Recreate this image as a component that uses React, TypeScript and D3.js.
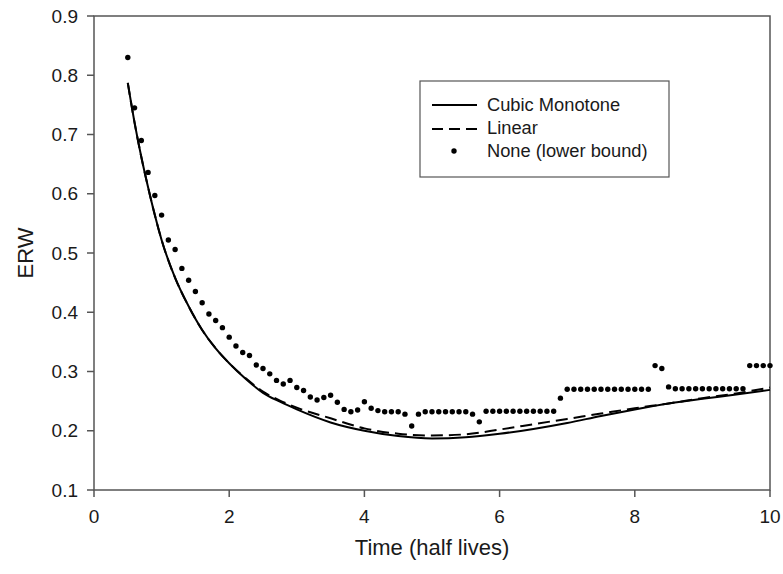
import React from "react";
import * as d3 from "d3";

// ---- data ----
const dotTimes: number[] = [
  0.5, 0.6, 0.7, 0.8, 0.9, 1.0, 1.1, 1.2, 1.3, 1.4, 1.5, 1.6, 1.7, 1.8, 1.9,
  2.0, 2.1, 2.2, 2.3, 2.4, 2.5, 2.6, 2.7, 2.8, 2.9, 3.0, 3.1, 3.2, 3.3, 3.4,
  3.5, 3.6, 3.7, 3.8, 3.9, 4.0, 4.1, 4.2, 4.3, 4.4, 4.5, 4.6, 4.7, 4.8, 4.9,
  5.0, 5.1, 5.2, 5.3, 5.4, 5.5, 5.6, 5.7, 5.8, 5.9, 6.0, 6.1, 6.2, 6.3, 6.4,
  6.5, 6.6, 6.7, 6.8, 6.9, 7.0, 7.1, 7.2, 7.3, 7.4, 7.5, 7.6, 7.7, 7.8, 7.9,
  8.0, 8.1, 8.2, 8.3, 8.4, 8.5, 8.6, 8.7, 8.8, 8.9, 9.0, 9.1, 9.2, 9.3, 9.4,
  9.5, 9.6, 9.7, 9.8, 9.9, 10.0,
];
const dotValues: number[] = [
  0.830, 0.745, 0.690, 0.636, 0.597, 0.564, 0.522, 0.506, 0.474, 0.454, 0.435, 0.416, 0.397, 0.386, 0.374,
  0.358, 0.343, 0.332, 0.327, 0.311, 0.305, 0.296, 0.285, 0.279, 0.285, 0.273, 0.268, 0.257, 0.252, 0.256,
  0.260, 0.248, 0.236, 0.232, 0.235, 0.249, 0.238, 0.234, 0.232, 0.232, 0.232, 0.228, 0.208, 0.228, 0.232,
  0.232, 0.232, 0.232, 0.232, 0.232, 0.232, 0.228, 0.215, 0.233, 0.233, 0.233, 0.233, 0.233, 0.233, 0.233,
  0.233, 0.233, 0.233, 0.233, 0.255, 0.270, 0.270, 0.270, 0.270, 0.270, 0.270, 0.270, 0.270, 0.270, 0.270,
  0.270, 0.270, 0.270, 0.310, 0.305, 0.274, 0.271, 0.271, 0.271, 0.271, 0.271, 0.271, 0.271, 0.271, 0.271,
  0.271, 0.271, 0.310, 0.310, 0.310, 0.310,
];

const cubicTimes: number[] = [
  0.5, 0.6, 0.7, 0.8, 0.9, 1.0, 1.2, 1.4, 1.6, 1.8, 2.0, 2.25, 2.5, 2.75, 3.0,
  3.5, 4.0, 4.5, 5.0, 5.5, 6.0, 6.5, 7.0, 7.5, 8.0, 8.5, 9.0, 9.5, 10.0,
];
const cubicValues: number[] = [
  0.787, 0.720, 0.662, 0.611, 0.564, 0.522, 0.458, 0.410, 0.370, 0.339, 0.314, 0.287, 0.264, 0.249, 0.236,
  0.214, 0.200, 0.191, 0.187, 0.189, 0.195, 0.203, 0.213, 0.225, 0.236, 0.246, 0.254, 0.261, 0.269,
];

const linearTimes: number[] = [
  0.5, 0.6, 0.7, 0.8, 0.9, 1.0, 1.2, 1.4, 1.6, 1.8, 2.0, 2.25, 2.5, 2.75, 3.0,
  3.5, 4.0, 4.5, 5.0, 5.5, 6.0, 6.5, 7.0, 7.5, 8.0, 8.5, 9.0, 9.5, 10.0,
];
const linearValues: number[] = [
  0.787, 0.720, 0.662, 0.611, 0.564, 0.522, 0.458, 0.410, 0.370, 0.339, 0.314, 0.288, 0.266, 0.251, 0.239,
  0.221, 0.204, 0.195, 0.192, 0.194, 0.202, 0.211, 0.220, 0.229, 0.238, 0.246, 0.255, 0.263, 0.273,
];

const xTicks: number[] = [0, 2, 4, 6, 8, 10];
const yTicks: number[] = [0.1, 0.2, 0.3, 0.4, 0.5, 0.6, 0.7, 0.8, 0.9];
const legendLabels: string[] = ["Cubic Monotone", "Linear", "None (lower bound)"];

const W = 783;
const H = 574;
const FONT = "'Liberation Sans', Arial, Helvetica, sans-serif";
const AXIS = "#555";
const TEXT = "#1a1a1a";

export default function App() {
  const x = d3.scaleLinear().domain([0, 10]).range([94, 770]);
  const y = d3.scaleLinear().domain([0.1, 0.9]).range([490, 16]);

  const cubic = cubicTimes.map((t, i) => [t, cubicValues[i]] as [number, number]);
  const linear = linearTimes.map((t, i) => [t, linearValues[i]] as [number, number]);
  const line = d3
    .line<[number, number]>()
    .x((d) => x(d[0]))
    .y((d) => y(d[1]))
    .curve(d3.curveMonotoneX);

  const [x0, x1] = x.range();
  const [yb, yt] = y.range();

  return (
    <svg
      width={W}
      height={H}
      style={{ position: "absolute", left: 0, top: 0, background: "#fff" }}
      fontFamily={FONT}
    >
      <rect x={0} y={0} width={W} height={H} fill="#fff" />
      {/* frame */}
      <rect x={x0} y={yt} width={x1 - x0} height={yb - yt} fill="none" stroke={AXIS} strokeWidth={1.5} />
      {/* y ticks */}
      {yTicks.map((v) => (
        <g key={"y" + v}>
          <line x1={x0 - 7} x2={x0} y1={y(v)} y2={y(v)} stroke={AXIS} strokeWidth={1.5} />
          <text x={78} y={y(v)} dy="0.35em" textAnchor="end" fontSize={19} fill={TEXT}>
            {v.toFixed(1)}
          </text>
        </g>
      ))}
      {/* x ticks */}
      {xTicks.map((t) => (
        <g key={"x" + t}>
          <line x1={x(t)} x2={x(t)} y1={yb} y2={yb + 7} stroke={AXIS} strokeWidth={1.5} />
          <text x={x(t)} y={516} dy="0.35em" textAnchor="middle" fontSize={19} fill={TEXT}>
            {t}
          </text>
        </g>
      ))}
      {/* axis titles */}
      <text x={(x0 + x1) / 2} y={547} dy="0.35em" textAnchor="middle" fontSize={22} fill={TEXT}>
        Time (half lives)
      </text>
      <text
        transform={`translate(25,${(yb + yt) / 2}) rotate(-90)`}
        dy="0.35em"
        textAnchor="middle"
        fontSize={22}
        fill={TEXT}
      >
        ERW
      </text>
      {/* curves */}
      <path d={line(cubic) || ""} fill="none" stroke="#000" strokeWidth={2} />
      <path d={line(linear) || ""} fill="none" stroke="#000" strokeWidth={2} strokeDasharray="12,6" />
      {/* dots */}
      {dotTimes.map((t, i) => (
        <circle key={"d" + i} cx={x(t)} cy={y(dotValues[i])} r={2.7} fill="#000" />
      ))}
      {/* legend */}
      <rect x={420} y={81} width={249} height={96} fill="#fff" stroke={AXIS} strokeWidth={1.2} />
      <line x1={432} x2={477} y1={105} y2={105} stroke="#000" strokeWidth={2} />
      <line x1={432} x2={477} y1={129} y2={129} stroke="#000" strokeWidth={2} strokeDasharray="11,6" />
      <circle cx={454} cy={151} r={2.7} fill="#000" />
      {legendLabels.map((l, i) => (
        <text key={l} x={487} y={105 + i * 23} dy="0.35em" fontSize={18.3} fill={TEXT}>
          {l}
        </text>
      ))}
    </svg>
  );
}
